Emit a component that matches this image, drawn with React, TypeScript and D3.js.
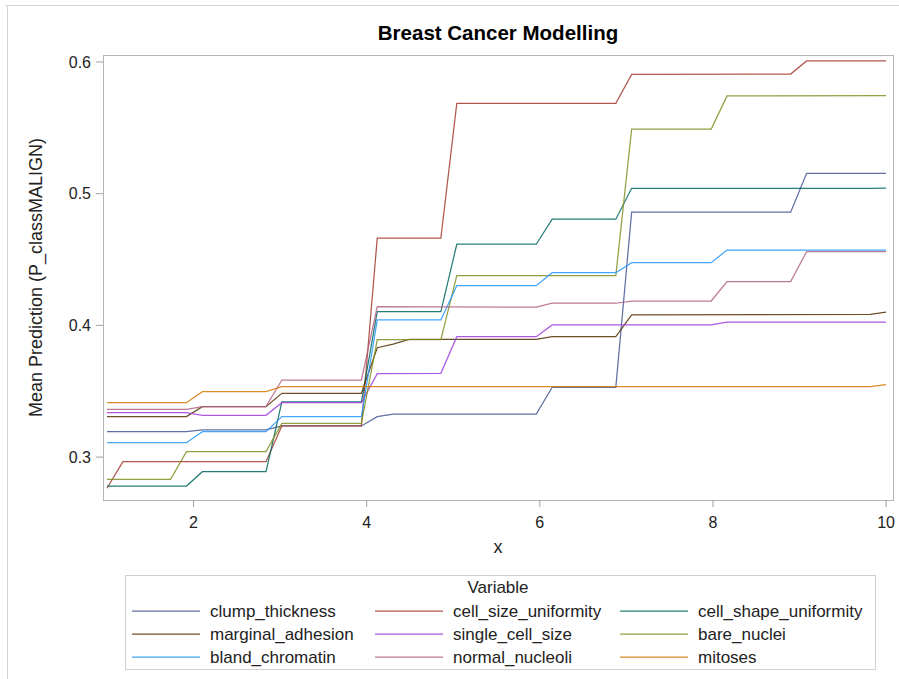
import * as d3 from 'd3';

// step-shaped partial dependence curves as [x, mean prediction]
const clumpThickness: [number, number][] = [
  [1, 0.3193], [1.918, 0.3193], [2.102, 0.3206], [2.837, 0.3206], [3.02, 0.3236], [3.939, 0.3236],
  [4.122, 0.3307], [4.306, 0.3326], [5.959, 0.3327], [6.143, 0.353], [6.878, 0.353], [7.061, 0.4859],
  [8.898, 0.4859], [9.082, 0.5155], [10, 0.5155],
];
const cellSizeUniformity: [number, number][] = [
  [1, 0.2763], [1.184, 0.2965], [2.837, 0.2965], [3.02, 0.3236], [3.939, 0.3236], [4.122, 0.4662],
  [4.857, 0.4662], [5.041, 0.5686], [6.878, 0.5686], [7.061, 0.5905], [8.898, 0.5908], [9.082, 0.6008],
  [10, 0.6008],
];
const cellShapeUniformity: [number, number][] = [
  [1, 0.278], [1.918, 0.278], [2.102, 0.2889], [2.837, 0.2889], [3.02, 0.342], [3.939, 0.342],
  [4.122, 0.4104], [4.857, 0.4104], [5.041, 0.4616], [5.959, 0.4616], [6.143, 0.4806], [6.878, 0.4806],
  [7.061, 0.5041], [9.816, 0.5041], [10, 0.5043],
];
const marginalAdhesion: [number, number][] = [
  [1, 0.3307], [1.918, 0.3307], [2.102, 0.3383], [2.837, 0.3383], [3.02, 0.3484], [3.939, 0.3484],
  [4.122, 0.383], [4.306, 0.3858], [4.49, 0.3894], [5.959, 0.3894], [6.143, 0.3914], [6.878, 0.3914],
  [7.061, 0.4079], [9.816, 0.4084], [10, 0.41],
];
const singleCellSize: [number, number][] = [
  [1, 0.3337], [1.918, 0.3337], [2.102, 0.3317], [2.837, 0.3317], [3.02, 0.3413], [3.939, 0.3413],
  [4.122, 0.3633], [4.857, 0.3636], [5.041, 0.3914], [5.959, 0.3914], [6.143, 0.4003], [7.98, 0.4003],
  [8.163, 0.4024], [10, 0.4024],
];
const bareNuclei: [number, number][] = [
  [1, 0.2831], [1.735, 0.2831], [1.918, 0.3041], [2.837, 0.3041], [3.02, 0.3256], [3.939, 0.3256],
  [4.122, 0.3891], [4.857, 0.3891], [5.041, 0.4378], [6.878, 0.4378], [7.061, 0.5491], [7.98, 0.5491],
  [8.163, 0.5742], [10, 0.5745],
];
const blandChromatin: [number, number][] = [
  [1, 0.3109], [1.918, 0.3109], [2.102, 0.3193], [2.837, 0.3193], [3.02, 0.3307], [3.939, 0.3307],
  [4.122, 0.4041], [4.857, 0.4041], [5.041, 0.4301], [5.959, 0.4301], [6.143, 0.44], [6.878, 0.44],
  [7.061, 0.4476], [7.98, 0.4476], [8.163, 0.4572], [10, 0.4572],
];
const normalNucleoli: [number, number][] = [
  [1, 0.3363], [1.918, 0.3363], [2.102, 0.3383], [2.837, 0.3383], [3.02, 0.3585], [3.939, 0.3585],
  [4.122, 0.4142], [5.959, 0.4138], [6.143, 0.4168], [6.878, 0.4168], [7.061, 0.4185], [7.98, 0.4185],
  [8.163, 0.4332], [8.898, 0.4332], [9.082, 0.456], [10, 0.456],
];
const mitoses: [number, number][] = [
  [1, 0.3413], [1.918, 0.3413], [2.102, 0.3497], [2.837, 0.3497], [3.02, 0.3535], [9.816, 0.3535],
  [10, 0.355],
];

const seriesNames = [
  'clump_thickness', 'cell_size_uniformity', 'cell_shape_uniformity',
  'marginal_adhesion', 'single_cell_size', 'bare_nuclei',
  'bland_chromatin', 'normal_nucleoli', 'mitoses',
];
const seriesValues = [
  clumpThickness, cellSizeUniformity, cellShapeUniformity,
  marginalAdhesion, singleCellSize, bareNuclei,
  blandChromatin, normalNucleoli, mitoses,
];
const COLORS = [
  '#445694', '#A23A2E', '#01665E', '#543005', '#9D3CDB',
  '#7F8E1F', '#2597FA', '#B26084', '#D17800',
];

const xTicks = [2, 4, 6, 8, 10];
const yTicks = [0.3, 0.4, 0.5, 0.6];

const W = 899;
const H = 679;
const PLOT = { left: 103, right: 893, top: 55, bottom: 500 };
const FONT = '"Liberation Sans", Arial, sans-serif';

export default function App() {
  const xScale = d3.scaleLinear().domain([0.954, 10.08]).range([PLOT.left, PLOT.right]);
  const yScale = d3.scaleLinear().domain([0.2674, 0.6053]).range([PLOT.bottom, PLOT.top]);

  const line = d3
    .line<[number, number]>()
    .x((d) => xScale(d[0]))
    .y((d) => yScale(d[1]));

  const legendCols = [132, 375, 620];
  const legendRows = [611, 634, 657];

  return (
    <svg
      width={W}
      height={H}
      style={{ position: 'absolute', left: 0, top: 0, background: '#fff' }}
      fontFamily={FONT}
    >
      {/* page border */}
      <line x1={5} x2={W} y1={5.5} y2={5.5} stroke="#d4d4d4" />
      <line x1={7.5} x2={7.5} y1={5} y2={H} stroke="#d4d4d4" />

      <text x={498} y={40} textAnchor="middle" fontSize={20.5} fontWeight="bold" fill="#000">
        Breast Cancer Modelling
      </text>

      {/* series */}
      <g fill="none" strokeWidth={1.25} strokeOpacity={0.85}>
        {seriesValues.map((s, i) => (
          <path key={seriesNames[i]} d={line(s) ?? ''} stroke={COLORS[i]} />
        ))}
      </g>

      {/* frame */}
      <rect
        x={PLOT.left + 0.5}
        y={PLOT.top + 0.5}
        width={PLOT.right - PLOT.left}
        height={PLOT.bottom - PLOT.top}
        fill="none"
        stroke="#b0b6ba"
      />

      {/* y axis */}
      {yTicks.map((v) => (
        <g key={v}>
          <line x1={PLOT.left - 7} x2={PLOT.left} y1={yScale(v)} y2={yScale(v)} stroke="#a0a0a0" />
          <text x={PLOT.left - 12} y={yScale(v)} dy="0.35em" textAnchor="end" fontSize={16} fill="#222">
            {v.toFixed(1)}
          </text>
        </g>
      ))}
      <text
        transform={`translate(42,${(PLOT.top + PLOT.bottom) / 2}) rotate(-90)`}
        textAnchor="middle"
        fontSize={18}
        fill="#222"
      >
        Mean Prediction (P_classMALIGN)
      </text>

      {/* x axis */}
      {xTicks.map((v) => (
        <g key={v}>
          <line x1={xScale(v)} x2={xScale(v)} y1={PLOT.bottom} y2={PLOT.bottom + 7} stroke="#a0a0a0" />
          <text x={xScale(v)} y={528} textAnchor="middle" fontSize={16} fill="#222">
            {v}
          </text>
        </g>
      ))}
      <text x={498} y={553} textAnchor="middle" fontSize={18} fill="#222">
        x
      </text>

      {/* legend */}
      <rect x={125.5} y={575.5} width={750} height={94} fill="none" stroke="#d0d0d0" />
      <text x={498} y={593} textAnchor="middle" fontSize={17} fill="#222">
        Variable
      </text>
      {seriesNames.map((name, i) => {
        const cx = legendCols[i % 3];
        const cy = legendRows[Math.floor(i / 3)];
        return (
          <g key={name}>
            <line x1={cx} x2={cx + 68} y1={cy} y2={cy} stroke={COLORS[i]} strokeWidth={1.25} strokeOpacity={0.85} />
            <text x={cx + 78} y={cy} dy="0.35em" fontSize={17} fill="#222">
              {name}
            </text>
          </g>
        );
      })}
    </svg>
  );
}
